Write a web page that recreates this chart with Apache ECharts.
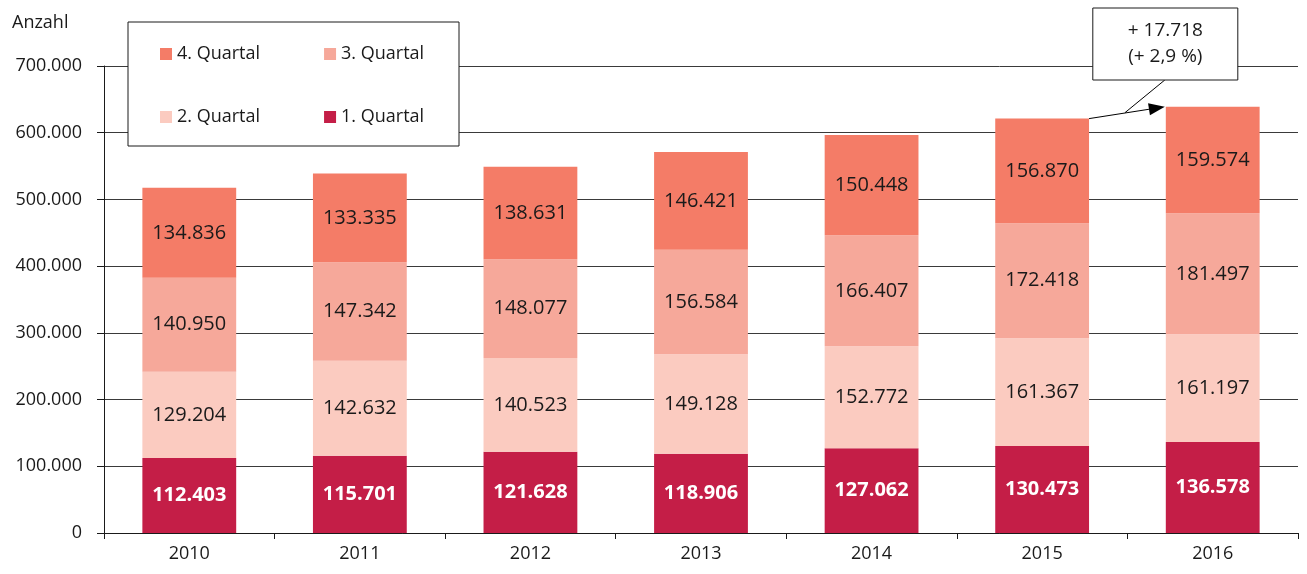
<!DOCTYPE html>
<html>
<head>
<meta charset="utf-8">
<script src="https://cdn.jsdelivr.net/npm/echarts@6/dist/echarts.min.js"></script>
<style>
  html, body { margin: 0; padding: 0; background: #fff; }
  #chart { width: 1307px; height: 574px; }
</style>
</head>
<body>
<div id="chart"></div>
<script>
const years = ["2010", "2011", "2012", "2013", "2014", "2015", "2016"];
const q1 = [112403, 115701, 121628, 118906, 127062, 130473, 136578];
const q2 = [129204, 142632, 140523, 149128, 152772, 161367, 161197];
const q3 = [140950, 147342, 148077, 156584, 166407, 172418, 181497];
const q4 = [134836, 133335, 138631, 146421, 150448, 156870, 159574];
const changeText = ["+ 17.718", "(+ 2,9 %)"];

const FONT = "'Open Sans', 'Noto Sans', sans-serif";
const fmt = (v) => String(v).replace(/\B(?=(\d{3})+(?!\d))/g, ".");

const colors = { q1: "#c41e47", q2: "#fbcbc0", q3: "#f6a89a", q4: "#f47c67" };

const mkSeries = (name, data, color, bold) => ({
  name: name,
  type: "bar",
  stack: "total",
  data: data,
  barWidth: "55%",
  itemStyle: { color: color },
  label: {
    show: true,
    position: "inside",
    formatter: (p) => fmt(p.value),
    color: bold ? "#fff" : "#1a1a1a",
    fontWeight: bold ? "bold" : "normal",
    fontSize: 20,
    fontFamily: FONT,
  },
});

const chart = echarts.init(document.getElementById("chart"));

const legendText = { fontSize: 18, color: "#1a1a1a", fontFamily: FONT };

chart.setOption({
  animation: false,
  textStyle: { fontFamily: FONT },
  grid: { left: 104, right: 9, top: 66, bottom: 41 },
  legend: [
    {
      data: ["4. Quartal", "3. Quartal"],
      left: 155, top: 40, itemWidth: 12, itemHeight: 12, itemGap: 64,
      icon: "rect", textStyle: legendText, selectedMode: false,
    },
    {
      data: ["2. Quartal", "1. Quartal"],
      left: 155, top: 103, itemWidth: 12, itemHeight: 12, itemGap: 64,
      icon: "rect", textStyle: legendText, selectedMode: false,
    },
  ],
  xAxis: {
    type: "category",
    data: years,
    axisLine: { lineStyle: { color: "#1a1a1a", width: 1 } },
    axisTick: { show: true, length: 6, lineStyle: { color: "#1a1a1a" } },
    axisLabel: { color: "#1a1a1a", fontSize: 18, margin: 12, fontFamily: FONT },
  },
  yAxis: {
    type: "value",
    min: 0, max: 700000, interval: 100000,
    name: "Anzahl",
    nameLocation: "end",
    nameGap: 34,
    nameTextStyle: { color: "#1a1a1a", fontSize: 18, align: "left", padding: [0, 0, 0, -92], fontFamily: FONT },
    axisLine: { show: true, lineStyle: { color: "#1a1a1a", width: 1 } },
    axisTick: { show: true, length: 7, lineStyle: { color: "#1a1a1a" } },
    axisLabel: { color: "#1a1a1a", fontSize: 18, margin: 22, formatter: (v) => fmt(v), fontFamily: FONT },
    splitLine: { lineStyle: { color: "#3a3a3a", width: 1 } },
  },
  series: [
    mkSeries("1. Quartal", q1, colors.q1, true),
    mkSeries("2. Quartal", q2, colors.q2, false),
    mkSeries("3. Quartal", q3, colors.q3, false),
    mkSeries("4. Quartal", q4, colors.q4, false),
  ],
});

// annotation: arrow from 2015 total to 2016 total, with a boxed label
const totals = years.map((_, i) => q1[i] + q2[i] + q3[i] + q4[i]);
const bandW = chart.convertToPixel({ xAxisIndex: 0 }, years[1]) - chart.convertToPixel({ xAxisIndex: 0 }, years[0]);
const halfBar = bandW * 0.55 / 2;
const pA = chart.convertToPixel({ gridIndex: 0 }, [years[5], totals[5]]);
const pB = chart.convertToPixel({ gridIndex: 0 }, [years[6], totals[6]]);
const start = [pA[0] + halfBar, pA[1]];
const end = [pB[0] - halfBar - 1, pB[1]];
const mid = [(start[0] + end[0]) / 2, (start[1] + end[1]) / 2];
const ang = Math.atan2(end[1] - start[1], end[0] - start[0]);
const ah = 16, aw = 6;
const base = [end[0] - ah * Math.cos(ang), end[1] - ah * Math.sin(ang)];
const boxW = 145, boxH = 72;
const boxX = pB[0] - halfBar - 73, boxY = 8;

chart.setOption({
  graphic: [
    {
      type: "rect", shape: { x: 128, y: 22, width: 331, height: 124 },
      style: { fill: "#fff", stroke: "#1a1a1a", lineWidth: 1 }, z: 1,
    },
    {
      type: "line", shape: { x1: start[0], y1: start[1], x2: base[0], y2: base[1] },
      style: { stroke: "#000", lineWidth: 1 }, z: 10,
    },
    {
      type: "polygon",
      shape: { points: [
        end,
        [base[0] + aw * Math.sin(ang), base[1] - aw * Math.cos(ang)],
        [base[0] - aw * Math.sin(ang), base[1] + aw * Math.cos(ang)],
      ] },
      style: { fill: "#000" }, z: 10,
    },
    {
      type: "line", shape: { x1: mid[0] - 2, y1: mid[1], x2: boxX + 72, y2: boxY + boxH },
      style: { stroke: "#000", lineWidth: 1 }, z: 10,
    },
    {
      type: "rect", shape: { x: boxX, y: boxY, width: boxW, height: boxH },
      style: { fill: "#fff", stroke: "#1a1a1a", lineWidth: 1 }, z: 10,
    },
    {
      type: "text", x: boxX + boxW / 2, y: boxY + boxH / 2, z: 11,
      style: {
        text: changeText.join("\n"), align: "center", verticalAlign: "middle",
        fontSize: 19, lineHeight: 26, fill: "#1a1a1a", fontFamily: FONT,
      },
    },
  ],
});
</script>
</body>
</html>
